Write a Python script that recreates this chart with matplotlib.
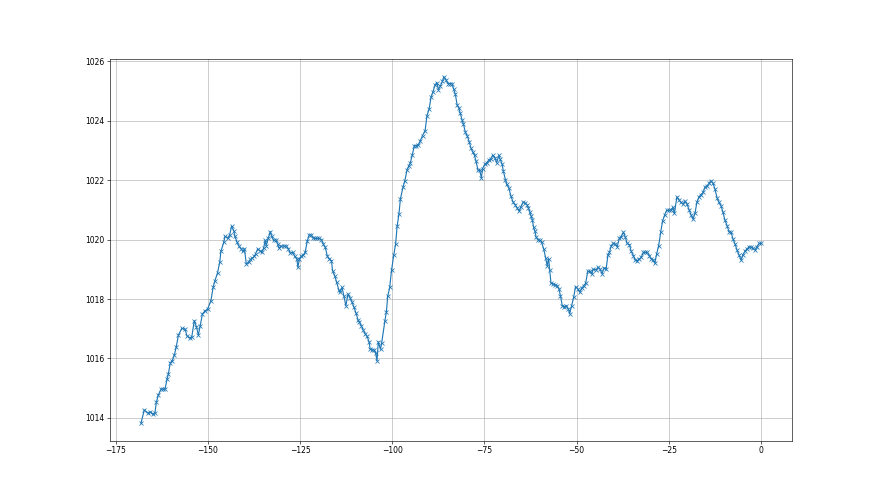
import numpy as np
import matplotlib
matplotlib.use('Agg')
import matplotlib.pyplot as plt

# timmar före nu och lufttryck (hPa)
hours = [-168.16, -167.26, -166.35, -165.63, -164.91, -164.37, -164.0, -163.46, -162.7, -162.2,
         -161.65, -161.1, -160.75, -160.2, -159.7, -159.1, -158.6, -158.0, -157.1, -156.2,
         -155.7, -155.0, -154.4, -153.7, -153.15, -152.6, -152.1, -151.5, -150.8, -150.1,
         -149.2, -148.6, -148.1,
         -147.4, -146.8, -146.5, -145.7, -145.4, -144.65, -144.1, -143.6, -143.0, -142.7,
         -142.1, -141.6, -141.0, -140.5, -140.1, -139.6, -139.0, -138.5, -138.0, -137.4,
         -137.1, -136.5, -136.0, -135.4, -134.9, -134.5, -134.2, -133.6, -133.1, -132.7,
         -132.2, -131.6, -131.1, -130.7, -130.2, -129.5, -128.7, -128.2, -127.7,
         -127.0, -126.5, -125.9, -125.6, -125.2, -124.7, -124.1, -123.6, -123.05, -122.5,
         -122.0, -121.4, -120.9, -120.3, -119.8, -119.25, -118.7, -118.2, -117.6, -117.1,
         -116.5, -116.2, -115.6, -115.1, -114.5, -114.2, -113.65, -113.1, -112.6, -112.0,
         -111.5, -110.9, -110.4, -109.85, -109.3, -108.9, -108.4, -107.9, -107.3,
         -106.9, -106.3, -106.0, -105.4, -104.9, -104.5, -104.15, -103.8, -103.2, -102.9,
         -102.0, -101.6, -101.25, -100.7, -100.2, -99.6, -99.1, -98.7, -98.2, -97.8,
         -97.1, -96.6, -96.0, -95.5, -95.1, -94.6, -94.0, -93.5, -92.9, -92.4,
         -91.8, -91.1, -90.6, -90.0, -89.5, -89.0, -88.4, -87.9, -87.5, -87.0, -86.4,
         -86.0, -85.4, -84.9, -84.35, -83.8, -83.4, -82.9, -82.4, -82.0, -81.6,
         -81.1, -80.7, -80.2, -79.65, -79.1, -78.7, -78.2, -77.7, -77.3, -76.75,
         -76.3, -75.85, -75.5, -74.95, -74.4, -73.9, -73.3, -72.8, -72.2, -71.7,
         -71.1, -70.8, -70.2, -69.9, -69.3, -69.0, -68.4, -67.8, -67.2,
         -66.7, -66.2, -65.6, -65.1, -64.5, -64.0, -63.5, -63.1, -62.7, -62.4,
         -62.0, -61.7, -61.3, -61.0, -60.4, -59.85, -59.5, -58.95, -58.4, -58.0,
         -57.6, -57.3, -56.96, -56.4, -55.9, -55.3, -54.8, -54.4, -53.9, -53.3,
         -52.8, -52.25, -51.9, -51.35, -50.8, -50.3, -49.7, -49.2, -48.6, -48.1,
         -47.55, -47.0, -46.5,
         -45.9, -45.5, -44.75, -44.2, -43.7, -43.1, -42.6, -42.0, -41.5, -41.1,
         -40.6, -40.05, -39.5, -39.0, -38.4, -37.9, -37.3, -36.8, -36.3, -35.7,
         -35.2, -34.6, -34.1, -33.5, -33.0, -32.5, -31.9, -31.4, -30.8, -30.3,
         -29.7, -29.2, -28.8, -28.3, -27.75, -27.2, -26.7, -26.1, -25.6, -25.0,
         -24.4, -23.9, -23.5, -22.8, -22.25, -21.7, -21.2, -20.6, -20.1, -19.5,
         -19.0, -18.45, -17.9, -17.4, -16.8, -16.3, -15.7, -15.2, -14.6, -14.1,
         -13.6, -13.0, -12.5, -11.9, -11.4, -10.85, -10.3, -9.8, -9.2, -8.7,
         -8.1, -7.6, -7.05, -6.5, -6.0, -5.4, -4.9, -4.3, -3.8, -3.25,
         -2.7, -2.2, -1.6, -1.1, -0.5, 0.0]

pressure = [1013.82, 1014.27, 1014.16, 1014.20, 1014.12, 1014.18, 1014.52, 1014.77, 1014.97, 1014.97,
            1014.97, 1015.30, 1015.47, 1015.86, 1015.92, 1016.12, 1016.39, 1016.79, 1017.01, 1016.99,
            1016.76, 1016.69, 1016.72, 1017.27, 1017.07, 1016.79, 1017.10, 1017.50, 1017.60, 1017.66,
            1017.94, 1018.39, 1018.62,
            1018.88, 1019.24, 1019.60, 1019.91, 1020.11, 1020.05, 1020.16, 1020.45, 1020.30, 1020.11,
            1019.91, 1019.78, 1019.69, 1019.60, 1019.69, 1019.18, 1019.24, 1019.33, 1019.37, 1019.44,
            1019.52, 1019.69, 1019.63, 1019.57, 1019.71, 1019.97, 1019.80, 1020.05, 1020.27, 1020.11,
            1019.97, 1020.00, 1019.85, 1019.71, 1019.78, 1019.78, 1019.78, 1019.69, 1019.55,
            1019.57, 1019.44, 1019.35, 1019.07, 1019.35, 1019.44, 1019.48, 1019.59, 1019.96, 1020.16,
            1020.16, 1020.04, 1020.04, 1020.04, 1020.04, 1020.00, 1019.85, 1019.74, 1019.44, 1019.35,
            1019.29, 1018.95, 1018.78, 1018.56, 1018.31, 1018.22, 1018.39, 1018.09, 1017.77, 1018.17,
            1018.05, 1017.89, 1017.72, 1017.53, 1017.30, 1017.21, 1017.10, 1016.96, 1016.82,
            1016.76, 1016.56, 1016.31, 1016.29, 1016.29, 1016.17, 1015.92, 1016.56, 1016.31, 1016.51,
            1017.27, 1017.57, 1018.09, 1018.39, 1018.98, 1019.48, 1019.85, 1020.44, 1020.86, 1021.37,
            1021.76, 1021.98, 1022.35, 1022.49, 1022.58, 1022.85, 1023.16, 1023.16, 1023.19, 1023.33,
            1023.50, 1023.67, 1024.17, 1024.40, 1024.79, 1024.96, 1025.21, 1025.28, 1025.05, 1025.16, 1025.32,
            1025.48, 1025.36, 1025.25, 1025.25, 1025.25, 1025.08, 1024.89, 1024.52, 1024.44, 1024.26,
            1024.04, 1023.88, 1023.62, 1023.48, 1023.28, 1023.09, 1022.95, 1022.83, 1022.64, 1022.33,
            1022.33, 1022.08, 1022.39, 1022.53, 1022.58, 1022.67, 1022.72, 1022.83, 1022.76, 1022.58,
            1022.83, 1022.72, 1022.53, 1022.31, 1022.01, 1021.86, 1021.74, 1021.45, 1021.25,
            1021.18, 1021.07, 1020.96, 1021.11, 1021.26, 1021.23, 1021.18, 1021.07, 1020.92, 1020.81,
            1020.66, 1020.42, 1020.28, 1020.08, 1019.99, 1019.97, 1019.91, 1019.69, 1019.38, 1019.12,
            1019.35, 1018.98, 1018.53, 1018.51, 1018.48, 1018.45, 1018.34, 1018.11, 1017.78, 1017.74,
            1017.78, 1017.66, 1017.50, 1017.78, 1018.06, 1018.42, 1018.34, 1018.23, 1018.37, 1018.45,
            1018.53, 1018.93, 1018.93,
            1018.84, 1019.00, 1018.98, 1019.07, 1019.01, 1018.85, 1019.04, 1019.01, 1019.49, 1019.57,
            1019.80, 1019.87, 1019.85, 1019.76, 1020.05, 1020.10, 1020.25, 1020.08, 1019.87, 1019.83,
            1019.60, 1019.46, 1019.31, 1019.29, 1019.35, 1019.40, 1019.57, 1019.57, 1019.57, 1019.46,
            1019.35, 1019.31, 1019.20, 1019.52, 1019.80, 1020.25, 1020.62, 1020.84, 1020.98, 1020.98,
            1021.00, 1021.08, 1020.88, 1021.44, 1021.33, 1021.25, 1021.20, 1021.29, 1021.20, 1021.00,
            1020.84, 1020.69, 1020.88, 1021.25, 1021.44, 1021.51, 1021.59, 1021.76, 1021.81, 1021.89,
            1021.98, 1021.89, 1021.70, 1021.40, 1021.25, 1021.14, 1020.92, 1020.66, 1020.47, 1020.27,
            1020.24, 1020.02, 1019.85, 1019.65, 1019.49, 1019.31, 1019.49, 1019.62, 1019.68, 1019.76,
            1019.74, 1019.71, 1019.65, 1019.76, 1019.87, 1019.87]

fig = plt.figure(figsize=(16, 9), dpi=55)
plt.plot(hours, pressure, marker='x')
plt.grid()
plt.savefig('out.png', dpi=55)
